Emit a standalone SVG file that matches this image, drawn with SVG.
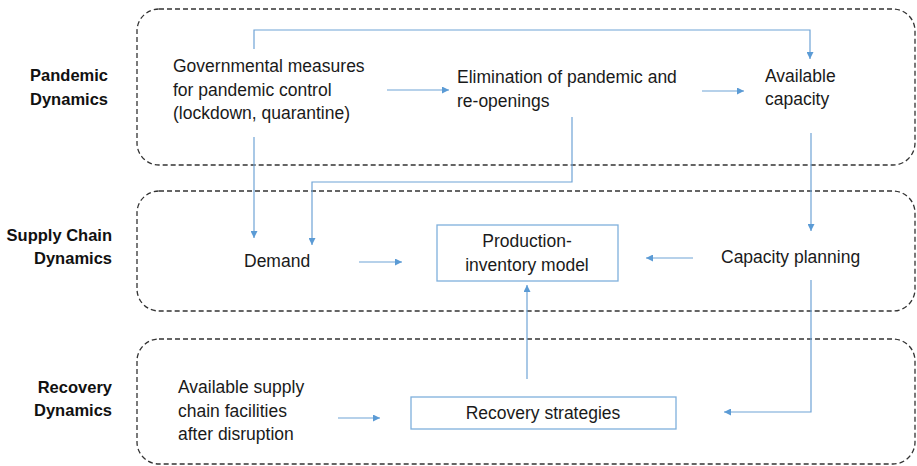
<svg xmlns="http://www.w3.org/2000/svg" width="917" height="466" viewBox="0 0 917 466">
<style>
.t{font-family:"Liberation Sans",Arial,sans-serif;font-size:17.5px;fill:#1a1a1a}
.c{text-anchor:middle}
.lab{font-family:"Liberation Sans",Arial,sans-serif;font-size:16.5px;font-weight:bold;fill:#111;text-anchor:end}
.zone{fill:none;stroke:#333;stroke-width:1.3;stroke-dasharray:5 3}
.box{fill:#fff;stroke:#7fb0dc;stroke-width:1.3}
.e{fill:none;stroke:#6fa3d6;stroke-width:1.2;marker-end:url(#ah)}
</style>
<defs>
<marker id="ah" viewBox="0 0 10 10" refX="10" refY="5" markerWidth="7" markerHeight="7" markerUnits="userSpaceOnUse" orient="auto">
<path d="M0,0 L10,5 L0,10 z" fill="#5b9bd5"/>
</marker>
</defs>
<rect width="917" height="466" fill="#fff"/>
<g id="zones">
<rect class="zone" x="137" y="9" width="778" height="156" rx="22"/>
<rect class="zone" x="137" y="191" width="778" height="120" rx="22"/>
<rect class="zone" x="137" y="339" width="778" height="125" rx="22"/>
</g>
<g id="labels">
<text class="lab" x="108" y="81">Pandemic</text>
<text class="lab" x="108" y="105">Dynamics</text>
<text class="lab" x="112" y="241">Supply Chain</text>
<text class="lab" x="112" y="264">Dynamics</text>
<text class="lab" x="112" y="393">Recovery</text>
<text class="lab" x="112" y="416">Dynamics</text>
</g>
<g id="connectors">
<path class="e" d="M254,49 V30 H810 V59"/>
<path class="e" d="M387,90 H449"/>
<path class="e" d="M702,91 H744"/>
<path class="e" d="M572,117 V182 H312 V245"/>
<path class="e" d="M254,137 V238"/>
<path class="e" d="M811,133 V231"/>
<path class="e" d="M359,262 H402"/>
<path class="e" d="M693,258 H646"/>
<path class="e" d="M811,280 V412 H724"/>
<path class="e" d="M527,379 V285"/>
<path class="e" d="M338,418 H380"/>
</g>
<g id="gov">
<text class="t" x="173" y="72">Governmental measures</text>
<text class="t" x="173" y="96">for pandemic control</text>
<text class="t" x="173" y="119">(lockdown, quarantine)</text>
</g>
<g id="elim">
<text class="t" x="457" y="83">Elimination of pandemic and</text>
<text class="t" x="457" y="107">re-openings</text>
</g>
<g id="avail">
<text class="t" x="765" y="82">Available</text>
<text class="t" x="765" y="105">capacity</text>
</g>
<g id="demand">
<text class="t" x="244" y="267">Demand</text>
</g>
<g id="pim">
<rect class="box" x="437" y="225" width="181" height="56"/>
<text class="t c" x="527" y="247">Production-</text>
<text class="t c" x="527" y="271">inventory model</text>
</g>
<g id="cap">
<text class="t" x="721" y="263">Capacity planning</text>
</g>
<g id="supply">
<text class="t" x="178" y="393">Available supply</text>
<text class="t" x="178" y="417">chain facilities</text>
<text class="t" x="178" y="440">after disruption</text>
</g>
<g id="rec">
<rect class="box" x="411" y="397" width="265" height="32"/>
<text class="t c" x="543" y="419">Recovery strategies</text>
</g>
</svg>
